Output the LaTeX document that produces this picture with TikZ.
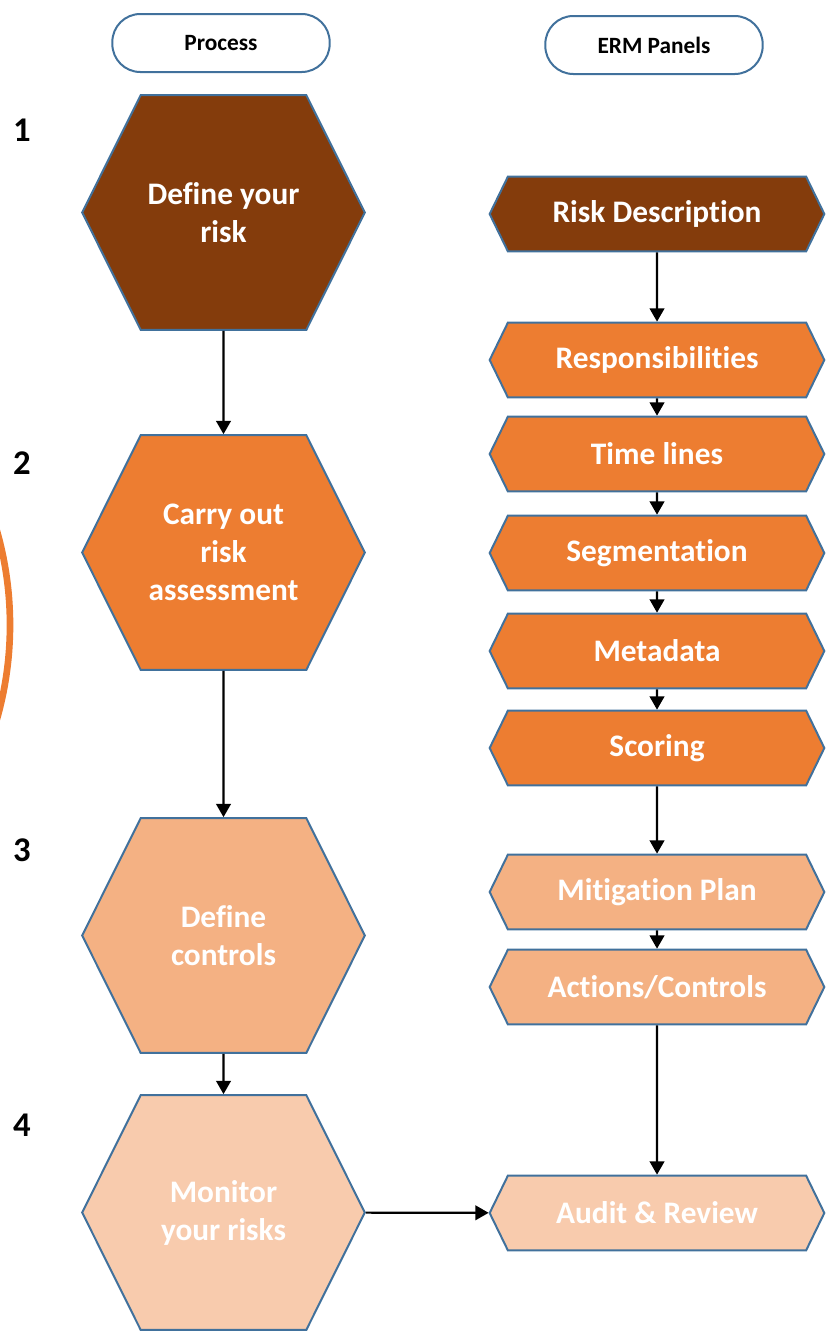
\documentclass[tikz,border=0pt]{standalone}
\usepackage{fontspec}
\setmainfont{Carlito}[Ligatures=CommonOff]
\usepackage{tikz}
\usetikzlibrary{positioning,arrows.meta,shapes.symbols}
\definecolor{rust}{HTML}{843C0C}
\definecolor{amber}{HTML}{ED7D31}
\definecolor{peach}{HTML}{F4B183}
\definecolor{blush}{HTML}{F8CBAD}
\definecolor{steel}{HTML}{41719C}
\tikzset{
  hdr/.style ={draw=steel, line width=1.5pt, rounded corners=21pt, minimum width=163pt, minimum height=43.5pt, font=\fontsize{17.5}{21}\selectfont\bfseries},
  proc/.style={signal, signal to=east and west, signal pointer angle=127, draw=steel, line width=1.5pt, minimum width=212pt, minimum height=176pt, text=white, align=center, font=\fontsize{23.5}{28.5}\selectfont\bfseries},
  pan/.style ={signal, signal to=east and west, signal pointer angle=128, draw=steel, line width=1.5pt, minimum width=251pt, minimum height=56pt, text=white, font=\fontsize{23.5}{28.5}\selectfont\bfseries},
  num/.style ={font=\fontsize{26}{30}\selectfont\bfseries},
  edge/.style={-{Triangle[length=10pt,width=11pt]}, line width=1.6pt},
}
\begin{document}
\begin{tikzpicture}[x=0.75pt, y=-0.75pt]
  \useasboundingbox (0,0) rectangle (830,1332);
  % headers
  \node[hdr] (proc) at (221,43) {Process};
  \node[hdr] (erm)  at (654,45) {ERM Panels};
  % step numbers
  \node[num] (n1) at (22,130)  {1};
  \node[num] (n2) at (22,463)  {2};
  \node[num] (n3) at (22,850)  {3};
  \node[num] (n4) at (22,1125) {4};
  % process column
  \node[proc, fill=rust]  (define) at (223.5,212.5) {Define your\\risk};
  \node[proc, fill=amber] (assess) at (223.5,552.5) {Carry out\\risk\\assessment};
  \node[proc, fill=peach] (ctrl)   at (223.5,935.5) {Define\\controls};
  \node[proc, fill=blush] (monit)  at (223.5,1212.5) {Monitor\\your risks};
  % panels column
  \node[pan, fill=rust]  (desc)  at (657,214) {Risk Description};
  \node[pan, fill=amber] (resp)  at (657,360) {Responsibilities};
  \node[pan, fill=amber] (time)  at (657,454) {Time lines};
  \node[pan, fill=amber] (seg)   at (657,553) {Segmentation};
  \node[pan, fill=amber] (meta)  at (657,651) {Metadata};
  \node[pan, fill=amber] (score) at (657,748) {Scoring};
  \node[pan, fill=peach] (mitig) at (657,892) {Mitigation Plan};
  \node[pan, fill=peach] (act)   at (657,987) {Actions/Controls};
  \node[pan, fill=blush] (audit) at (657,1213) {Audit \& Review};
  % arrows
  \draw[edge] (define) -- (assess);
  \draw[edge] (assess) -- (ctrl);
  \draw[edge] (ctrl) -- (monit);
  \draw[edge] (monit) -- (audit);
  \draw[edge] (desc) -- (resp);
  \draw[edge] (resp) -- (time);
  \draw[edge] (time) -- (seg);
  \draw[edge] (seg) -- (meta);
  \draw[edge] (meta) -- (score);
  \draw[edge] (score) -- (mitig);
  \draw[edge] (mitig) -- (act);
  \draw[edge] (act) -- (audit);
  % partial ring at the left edge
  \begin{scope}
    \clip (0,0) rectangle (830,1332);
    \draw[amber, line width=5pt] (-333,625) circle [radius=343];
  \end{scope}
\end{tikzpicture}
\end{document}
